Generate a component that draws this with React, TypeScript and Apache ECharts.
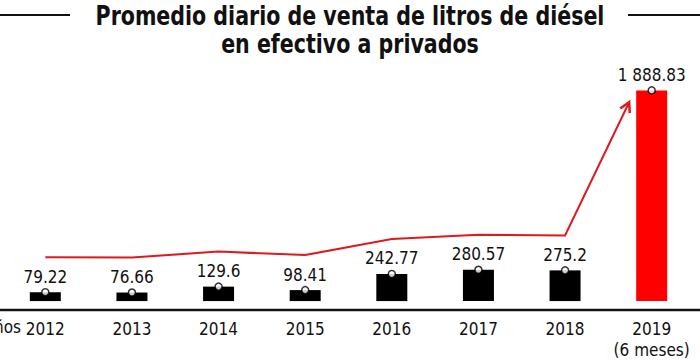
import React, { useEffect, useRef } from 'react';
import * as echarts from 'echarts';

const categories = ['2012', '2013', '2014', '2015', '2016', '2017', '2018', '2019\n(6 meses)'];
const values = [79.22, 76.66, 129.6, 98.41, 242.77, 280.57, 275.2, 1888.83];
const barColors = ['#000000', '#000000', '#000000', '#000000', '#000000', '#000000', '#000000', '#ff0000'];
const titleLines = ['Promedio diario de venta de litros de diésel', 'en efectivo a privados'];
const axisName = 'Años';

const FONT = '"Liberation Sans Narrow", "DejaVu Sans Condensed", "Arial Narrow", sans-serif';
const LINE_RED = '#dc1a20';
const LINE_OFFSET = 35;

function fmt(v: number): string {
  const s = String(v);
  const [i, d] = s.split('.');
  const ip = i.replace(/\B(?=(\d{3})+(?!\d))/g, ' ');
  return d ? ip + '.' + d : ip;
}

export default function App() {
  const ref = useRef<HTMLDivElement>(null);
  useEffect(() => {
    if (!ref.current) return;
    const chart = echarts.init(ref.current, null, { renderer: 'svg' });
    const titleStyle = {
      fontFamily: FONT,
      fontWeight: 'bold',
      fontSize: 26,
      fill: '#111111',
      textAlign: 'center',
      textVerticalAlign: 'middle',
    };
    chart.setOption({
      animation: false,
      backgroundColor: '#ffffff',
      grid: { left: 2, right: 5, top: 78, bottom: 50 },
      xAxis: {
        type: 'category',
        data: categories,
        axisLine: { show: false },
        axisTick: { show: false },
        axisLabel: {
          color: '#111111',
          fontFamily: FONT,
          fontSize: 17,
          lineHeight: 21,
          margin: 8,
          interval: 0,
        },
      },
      yAxis: {
        type: 'value',
        min: -80,
        max: 2000,
        show: false,
        splitLine: { show: false },
      },
      graphic: [
        { type: 'text', x: 350, y: 16, scaleX: 0.88, style: { ...titleStyle, text: titleLines[0] } },
        { type: 'text', x: 350, y: 44, scaleX: 0.88, style: { ...titleStyle, text: titleLines[1] } },
        { type: 'line', shape: { x1: 0, y1: 310, x2: 700, y2: 310 }, style: { stroke: '#111111', lineWidth: 2.5 } },
        { type: 'line', shape: { x1: 0, y1: 15, x2: 70, y2: 15 }, style: { stroke: '#111111', lineWidth: 2 } },
        { type: 'line', shape: { x1: 628, y1: 15, x2: 700, y2: 15 }, style: { stroke: '#111111', lineWidth: 2 } },
        {
          type: 'text',
          x: 21,
          y: 327,
          style: {
            text: axisName,
            fontFamily: FONT,
            fontSize: 17,
            fill: '#111111',
            textAlign: 'right',
            textVerticalAlign: 'middle',
          },
        },
      ],
      series: [
        {
          type: 'bar',
          data: values.map((v, i) => ({ value: v, itemStyle: { color: barColors[i] } })),
          barWidth: 31,
          label: {
            show: true,
            position: 'top',
            distance: 7,
            color: '#111111',
            fontFamily: FONT,
            fontSize: 17,
            formatter: (p: any) => fmt(p.value),
          },
          z: 2,
        },
        {
          type: 'scatter',
          data: values,
          symbol: 'circle',
          symbolSize: 7,
          itemStyle: { color: '#ffffff', borderColor: '#000000', borderWidth: 1.5 },
          z: 4,
          silent: true,
        },
        {
          type: 'custom',
          data: [0],
          silent: true,
          z: 3,
          renderItem: (params: any, api: any) => {
            const pts = values.map((v, i) => {
              const p = api.coord([i, v]);
              return [p[0], p[1] - LINE_OFFSET];
            });
            const a = pts[6];
            const b = pts[7];
            const t = 0.74;
            const tip = [a[0] + (b[0] - a[0]) * t, a[1] + (b[1] - a[1]) * t];
            const ang = Math.atan2(tip[1] - a[1], tip[0] - a[0]);
            const L = 11;
            const spread = 0.5;
            const h1 = [tip[0] - L * Math.cos(ang - spread), tip[1] - L * Math.sin(ang - spread)];
            const h2 = [tip[0] - L * Math.cos(ang + spread), tip[1] - L * Math.sin(ang + spread)];
            return {
              type: 'group',
              children: [
                {
                  type: 'polyline',
                  shape: { points: [...pts.slice(0, 7), tip] },
                  style: { stroke: LINE_RED, lineWidth: 2, fill: null },
                },
                {
                  type: 'polyline',
                  shape: { points: [h1, tip, h2] },
                  style: { stroke: LINE_RED, lineWidth: 2.5, fill: null },
                },
              ],
            };
          },
        },
      ],
    });
    return () => chart.dispose();
  }, []);
  return <div ref={ref} style={{ width: 700, height: 360, position: 'fixed', left: 0, top: 0 }} />;
}
